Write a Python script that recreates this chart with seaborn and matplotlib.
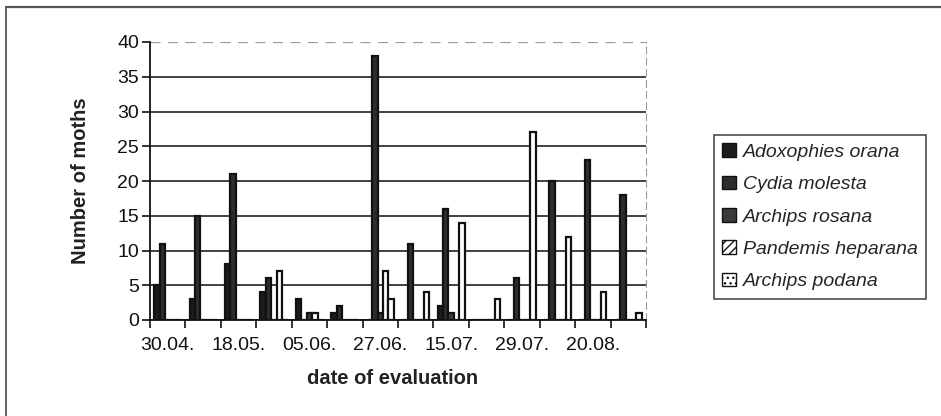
import numpy as np
import pandas as pd
import matplotlib
matplotlib.use("Agg")
import matplotlib.pyplot as plt
from matplotlib.lines import Line2D
from matplotlib.patches import Patch
import seaborn as sns

# Evaluation rounds; every second date is labelled on the axis
evaluation = [1, 2, 3, 4, 5, 6, 7, 8, 9, 10, 11, 12, 13, 14]
date_labels = ["30.04.", "18.05.", "05.06.", "27.06.", "15.07.", "29.07.", "20.08."]

species = ["Adoxophies orana", "Cydia molesta", "Archips rosana",
           "Pandemis heparana", "Archips podana"]

# Moths caught per evaluation
adoxophies_orana = [5, 3, 8, 4, 3, 1, 0, 0, 2, 0, 0, 0, 0, 0]
cydia_molesta = [11, 15, 21, 6, 0, 2, 38, 11, 16, 0, 6, 20, 23, 18]
archips_rosana = [0, 0, 0, 0, 1, 0, 1, 0, 1, 0, 0, 0, 0, 0]
pandemis_heparana = [0, 0, 0, 7, 1, 0, 7, 0, 0, 0, 0, 0, 0, 0]
archips_podana = [0, 0, 0, 0, 0, 0, 3, 4, 14, 3, 27, 12, 4, 1]

counts = [adoxophies_orana, cydia_molesta, archips_rosana,
          pandemis_heparana, archips_podana]

rows = []
for name, vals in zip(species, counts):
    for ev, v in zip(evaluation, vals):
        rows.append({"evaluation": ev, "moths": v, "species": name})
df = pd.DataFrame(rows)

colors = ["#1c1c1c", "#2e2e2e", "#3a3a3a", "#ffffff", "#ffffff"]
hatches = ["", "", "", "////", "..."]

sns.set_style("white")
plt.rcParams["font.family"] = ["Liberation Sans", "DejaVu Sans"]

fig = plt.figure(figsize=(9.41, 4.16), dpi=100)
ax = fig.add_axes([150 / 941, 1 - 320 / 416, 496 / 941, 278 / 416])

sns.barplot(data=df, x="evaluation", y="moths", hue="species",
            hue_order=species, order=evaluation, palette=colors,
            saturation=1, width=0.77, gap=0, edgecolor="#111111",
            linewidth=1.6, legend=False, ax=ax)

ax.set_ylim(0, 40)
ax.set_xlim(-0.5, len(evaluation) - 0.5)
ax.set_yticks(range(0, 41, 5))
ax.tick_params(axis="y", labelsize=14, length=6, width=1.2, pad=2,
               direction="out", left=True, colors="#111111")

# category boundary ticks, labels on every second category
ax.set_xticks([i - 0.5 for i in range(len(evaluation) + 1)])
ax.set_xticklabels([])
ax.tick_params(axis="x", which="major", length=6, width=1.2,
               direction="out", bottom=True, colors="#111111")
ax.set_xticks(list(range(0, len(evaluation), 2)), minor=True)
ax.set_xticklabels(date_labels, minor=True)
ax.tick_params(axis="x", which="minor", length=0, labelsize=14, pad=12,
               colors="#111111")

ax.yaxis.grid(True, color="#222222", linewidth=1.2)
ax.set_axisbelow(True)
top_line = ax.get_ygridlines()[-1]
top_line.set_color("#9a9a9a")
top_line.set_linestyle((0, (8, 6)))
top_line.set_linewidth(0.9)

for side in ["left", "bottom"]:
    ax.spines[side].set_color("#111111")
    ax.spines[side].set_linewidth(1.3)
ax.spines["top"].set_visible(False)
ax.spines["right"].set_color("#9a9a9a")
ax.spines["right"].set_linewidth(0.8)
ax.spines["right"].set_linestyle((0, (6, 4)))

ax.set_ylabel("Number of moths", fontsize=14.5, fontweight="bold",
              color="#222222")
ax.yaxis.set_label_coords(-0.121, 0.5)
ax.set_xlabel("date of evaluation", fontsize=14.5, fontweight="bold",
              color="#222222", va="center")
ax.xaxis.set_label_coords(0.49, -0.209)

handles = [Patch(facecolor=c, edgecolor="#111111", hatch=h, linewidth=1.0)
           for c, h in zip(colors, hatches)]
leg = fig.legend(handles, species, loc="upper left",
                 bbox_to_anchor=(714 / 941, 1 - 135 / 416),
                 prop={"size": 14, "style": "italic"},
                 frameon=True, fancybox=False, edgecolor="#222222",
                 handlelength=0.7, handleheight=0.7, handletextpad=0.35,
                 labelspacing=0.76, borderpad=0.42, borderaxespad=0)
leg.get_frame().set_linewidth(1.2)

# outer chart frame (left and top edges)
fig.add_artist(Line2D([6 / 941, 6 / 941], [0, 1 - 7 / 416],
                      transform=fig.transFigure, color="#555555", lw=1.3))
fig.add_artist(Line2D([6 / 941, 1], [1 - 7 / 416, 1 - 7 / 416],
                      transform=fig.transFigure, color="#555555", lw=1.6))

fig.savefig("out.png", dpi=100)
